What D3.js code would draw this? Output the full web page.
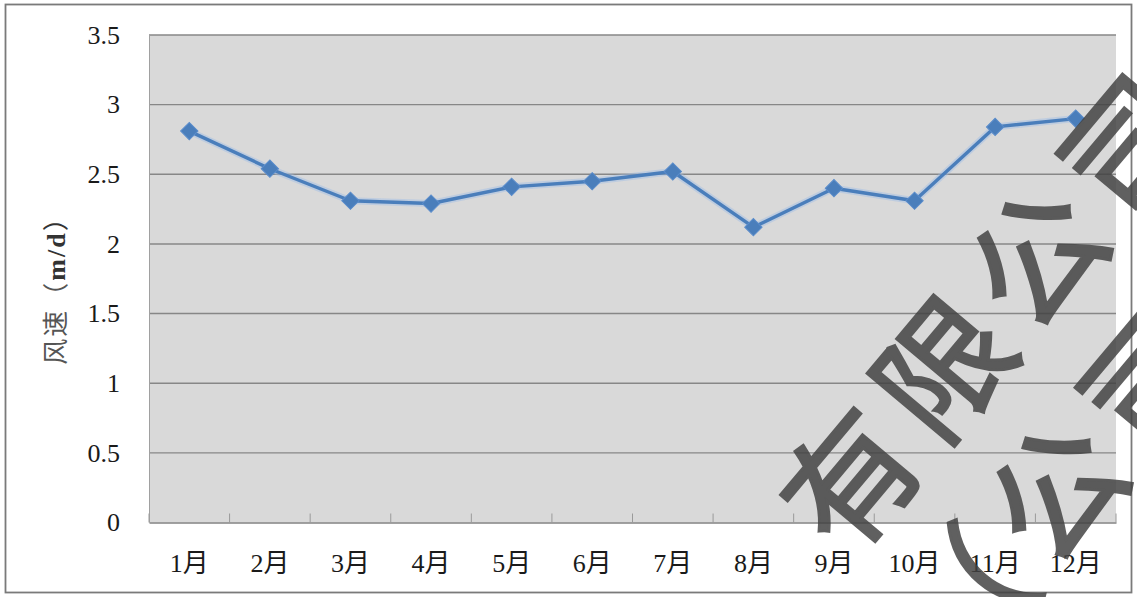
<!DOCTYPE html>
<html>
<head>
<meta charset="utf-8">
<script src="https://cdn.jsdelivr.net/npm/d3@7"></script>
<style>
  html, body { margin: 0; padding: 0; background: #ffffff; }
  svg { display: block; }
</style>
</head>
<body>
<svg id="chart" width="1137" height="597"></svg>
<script>
// Monthly mean wind speed
const months = ["1月", "2月", "3月", "4月", "5月", "6月", "7月", "8月", "9月", "10月", "11月", "12月"];
const windSpeed = [2.81, 2.54, 2.31, 2.29, 2.41, 2.45, 2.52, 2.12, 2.40, 2.31, 2.84, 2.90];
const yTicks = [0, 0.5, 1, 1.5, 2, 2.5, 3, 3.5];
const yTitle = "风速";
const yUnit = "m/d";
// Overlaid seal text, one entry per diagonal line
const stampLines = ["有限公司", "（公司"];

const W = 1137, H = 597;
const plot = { left: 149, right: 1116, top: 35, bottom: 522.5 };

const svg = d3.select("#chart");
const latin = "'Liberation Serif', 'Times New Roman', 'Noto Sans CJK SC', serif";

const x = d3.scaleBand().domain(months).range([plot.left, plot.right]);
const y = d3.scaleLinear().domain([0, 3.5]).range([plot.bottom, plot.top]);

// Outer frame
svg.append("rect")
  .attr("x", 5.5).attr("y", 4.5)
  .attr("width", W - 11).attr("height", H - 9)
  .attr("fill", "#ffffff")
  .attr("stroke", "#7a7a7a").attr("stroke-width", 1.8);

// Plot background
svg.append("rect")
  .attr("x", plot.left).attr("y", plot.top)
  .attr("width", plot.right - plot.left).attr("height", plot.bottom - plot.top)
  .attr("fill", "#d9d9d9");

// Horizontal gridlines
svg.append("g")
  .selectAll("line")
  .data(yTicks.filter(d => d > 0))
  .join("line")
  .attr("x1", plot.left).attr("x2", plot.right)
  .attr("y1", d => y(d)).attr("y2", d => y(d))
  .attr("stroke", "#878787").attr("stroke-width", 1.4);

// Left edge of plot
svg.append("line")
  .attr("x1", plot.left + 0.5).attr("x2", plot.left + 0.5)
  .attr("y1", plot.top).attr("y2", plot.bottom)
  .attr("stroke", "#a0a0a0").attr("stroke-width", 1);

// Y axis labels
const yAxis = svg.append("g")
  .attr("transform", `translate(${plot.left},0)`)
  .call(d3.axisLeft(y).tickValues(yTicks).tickFormat(d => String(d)).tickSize(0).tickPadding(29));
yAxis.select(".domain").remove();
yAxis.selectAll("text")
  .attr("font-family", latin)
  .attr("font-size", 26)
  .attr("fill", "#1a1a1a");

// X axis
const xAxis = svg.append("g")
  .attr("transform", `translate(0,${plot.bottom})`)
  .call(d3.axisBottom(x).tickSize(0).tickPadding(0));
xAxis.select(".domain")
  .attr("stroke", "#828282").attr("stroke-width", 1.5);
xAxis.selectAll("text")
  .attr("dy", null)
  .attr("y", 49)
  .attr("font-family", latin)
  .attr("font-size", 26)
  .attr("fill", "#1a1a1a");

// Category boundary ticks pointing into the plot
const boundaries = months.map(m => x(m)).concat([plot.right]);
svg.append("g")
  .selectAll("line")
  .data(boundaries)
  .join("line")
  .attr("x1", d => d).attr("x2", d => d)
  .attr("y1", plot.bottom - 9).attr("y2", plot.bottom)
  .attr("stroke", "#9a9a9a").attr("stroke-width", 1);

// Y axis title
svg.append("text")
  .attr("transform", "translate(65,284) rotate(-90)")
  .attr("text-anchor", "middle")
  .attr("font-size", 26)
  .attr("letter-spacing", 2)
  .attr("fill", "#333333")
  .call(t => {
    t.append("tspan").attr("font-family", "'Noto Sans CJK SC', sans-serif").attr("fill", "#555").text(yTitle + "（");
    t.append("tspan").attr("font-family", latin).attr("font-weight", "bold").text(yUnit);
    t.append("tspan").attr("font-family", "'Noto Sans CJK SC', sans-serif").text("）");
  });

// Series line
const cx = (d, i) => x(months[i]) + x.bandwidth() / 2;
const line = d3.line()
  .x((d, i) => cx(d, i))
  .y(d => y(d));

svg.append("path")
  .datum(windSpeed)
  .attr("d", line)
  .attr("fill", "none")
  .attr("stroke", "#9dbde6")
  .attr("stroke-opacity", 0.45)
  .attr("stroke-width", 7)
  .attr("stroke-linejoin", "round");

svg.append("path")
  .datum(windSpeed)
  .attr("d", line)
  .attr("fill", "none")
  .attr("stroke", "#4a7ebb")
  .attr("stroke-width", 3.4)
  .attr("stroke-linejoin", "round");

// Diamond markers
const diamond = d3.symbol().type(d3.symbolSquare).size(150);
svg.append("g")
  .selectAll("path")
  .data(windSpeed)
  .join("path")
  .attr("d", diamond)
  .attr("transform", (d, i) => `translate(${cx(d, i)},${y(d)}) rotate(45)`)
  .attr("fill", "#4a7ebb")
  .attr("stroke", "#5a8ccb")
  .attr("stroke-width", 1);

// Seal text overlay
const stampAngle = -50;
const stampSize = 130;
const stampAdvance = 145;
const stampOrigins = [
  { at: [844, 474], lead: 0 },
  { at: [1050, 486], lead: 1 }
];
const stamp = svg.append("g")
  .attr("pointer-events", "none")
  .attr("opacity", 0.84);
stampLines.forEach((txt, k) => {
  const o = stampOrigins[k];
  stamp.append("text")
    .attr("transform", `translate(${o.at[0]},${o.at[1]}) rotate(${stampAngle})`)
    .attr("x", -stampSize / 2 - o.lead * stampAdvance)
    .attr("y", 0)
    .attr("dominant-baseline", "central")
    .attr("font-family", "'Noto Sans CJK SC', sans-serif")
    .attr("font-size", stampSize)
    .attr("letter-spacing", stampAdvance - stampSize)
    .attr("fill", "#424242")
    .attr("stroke", "#424242")
    .attr("stroke-width", 3)
    .attr("stroke-linejoin", "miter")
    .text(txt);
});
</script>
</body>
</html>
